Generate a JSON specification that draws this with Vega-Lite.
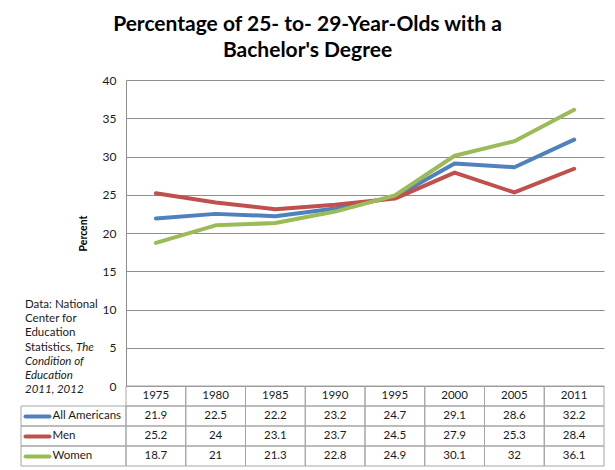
{
  "$schema": "https://vega.github.io/schema/vega-lite/v6.json",
  "padding": {"left": 20, "top": 14, "right": 12, "bottom": 4},
  "title": {
    "text": ["Percentage of 25- to- 29-Year-Olds with a", "Bachelor's Degree"],
    "font": "Lato", "fontSize": 21, "fontWeight": "bold", "lineHeight": 26,
    "color": "#000000", "anchor": "middle", "offset": 13, "dx": -5
  },
  "config": {"view": {"stroke": null}, "font": "Lato"},
  "datasets": {
    "education": [
      {"series": "All Americans", "year": "1975", "value": 21.9},
      {"series": "All Americans", "year": "1980", "value": 22.5},
      {"series": "All Americans", "year": "1985", "value": 22.2},
      {"series": "All Americans", "year": "1990", "value": 23.2},
      {"series": "All Americans", "year": "1995", "value": 24.7},
      {"series": "All Americans", "year": "2000", "value": 29.1},
      {"series": "All Americans", "year": "2005", "value": 28.6},
      {"series": "All Americans", "year": "2011", "value": 32.2},
      {"series": "Men", "year": "1975", "value": 25.2},
      {"series": "Men", "year": "1980", "value": 24},
      {"series": "Men", "year": "1985", "value": 23.1},
      {"series": "Men", "year": "1990", "value": 23.7},
      {"series": "Men", "year": "1995", "value": 24.5},
      {"series": "Men", "year": "2000", "value": 27.9},
      {"series": "Men", "year": "2005", "value": 25.3},
      {"series": "Men", "year": "2011", "value": 28.4},
      {"series": "Women", "year": "1975", "value": 18.7},
      {"series": "Women", "year": "1980", "value": 21},
      {"series": "Women", "year": "1985", "value": 21.3},
      {"series": "Women", "year": "1990", "value": 22.8},
      {"series": "Women", "year": "1995", "value": 24.9},
      {"series": "Women", "year": "2000", "value": 30.1},
      {"series": "Women", "year": "2005", "value": 32},
      {"series": "Women", "year": "2011", "value": 36.1}
    ],
    "note": [
      {"line": 1, "text": "Data: National", "part": "source"},
      {"line": 2, "text": "Center for", "part": "source"},
      {"line": 3, "text": "Education", "part": "source"},
      {"line": 4, "text": "Statistics,", "part": "source"},
      {"line": 4, "text": "The", "part": "titlestart"},
      {"line": 5, "text": "Condition of", "part": "title"},
      {"line": 6, "text": "Education", "part": "title"},
      {"line": 7, "text": "2011, 2012", "part": "title"}
    ]
  },
  "columns": 2,
  "spacing": 0,
  "bounds": "flush",
  "concat": [
    {
      "width": 105, "height": 306,
      "data": {"name": "note"},
      "encoding": {
        "x": {"datum": 0, "type": "quantitative", "scale": {"domain": [0, 1]}, "axis": null},
        "y": {"field": "line", "type": "ordinal", "scale": {"type": "point", "domain": [1, 2, 3, 4, 5, 6, 7], "range": [225, 310], "padding": 0}, "axis": null},
        "text": {"field": "text"}
      },
      "layer": [
        {"transform": [{"filter": "datum.part === 'source'"}],
         "mark": {"type": "text", "align": "left", "baseline": "middle", "fontSize": 11.5, "color": "#1a1a1a", "dx": 4}},
        {"transform": [{"filter": "datum.part === 'title'"}],
         "mark": {"type": "text", "align": "left", "baseline": "middle", "fontSize": 11.5, "fontStyle": "italic", "color": "#1a1a1a", "dx": 4}},
        {"transform": [{"filter": "datum.part === 'titlestart'"}],
         "mark": {"type": "text", "align": "left", "baseline": "middle", "fontSize": 11.5, "fontStyle": "italic", "color": "#1a1a1a", "dx": 55}}
      ]
    },
    {
      "width": 478, "height": 306,
      "data": {"name": "education"},
      "mark": {"type": "line", "strokeWidth": 4, "strokeCap": "round", "strokeJoin": "round"},
      "encoding": {
        "x": {"field": "year", "type": "ordinal", "scale": {"type": "point", "padding": 0.5}, "axis": null},
        "y": {"field": "value", "type": "quantitative", "scale": {"domain": [0, 40]},
          "axis": {"values": [0, 5, 10, 15, 20, 25, 30, 35, 40], "title": "Percent", "titleFont": "Lato",
            "titleFontWeight": "bold", "titleFontSize": 10.5, "titleColor": "#000000", "titlePadding": 14,
            "labelFont": "Lato", "labelFontSize": 12, "labelColor": "#1a1a1a", "labelPadding": 10,
            "ticks": false, "domainColor": "#8e8e8e", "gridColor": "#8e8e8e", "gridOpacity": 1}},
        "color": {"field": "series", "type": "nominal",
          "scale": {"domain": ["All Americans", "Men", "Women"], "range": ["#4F81BD", "#C0504D", "#9BBB59"]},
          "legend": null}
      }
    },
    {
      "width": 105, "height": 80,
      "data": {"name": "education"},
      "transform": [{"filter": "datum.year === '1975'"}],
      "mark": {"type": "rect", "filled": false, "stroke": "#a5a5a5", "strokeWidth": 1},
      "encoding": {
        "y": {"field": "series", "type": "nominal",
          "scale": {"domain": ["Year", "All Americans", "Men", "Women"], "paddingInner": 0, "paddingOuter": 0},
          "axis": {"title": null, "orient": "left", "offset": -28, "domain": false, "grid": false,
            "ticks": true, "tickSize": 24, "tickWidth": 4, "tickCap": "round",
            "tickColor": {"condition": [
              {"test": "datum.value === 'All Americans'", "value": "#4F81BD"},
              {"test": "datum.value === 'Men'", "value": "#C0504D"},
              {"test": "datum.value === 'Women'", "value": "#9BBB59"}], "value": "transparent"},
            "labelAlign": "left", "labelPadding": -27,
            "labelExpr": "datum.value === 'Year' ? '' : datum.value",
            "labelFont": "Lato", "labelFontSize": 11.5, "labelColor": "#1a1a1a", "zindex": 1}}
      }
    },
    {
      "width": 478, "height": 80,
      "data": {"name": "education"},
      "encoding": {
        "x": {"field": "year", "type": "ordinal", "scale": {"type": "band", "paddingInner": 0, "paddingOuter": 0}, "axis": null}
      },
      "layer": [
        {"mark": {"type": "rect", "filled": false, "stroke": "#a5a5a5", "strokeWidth": 1},
         "encoding": {"y": {"field": "series", "type": "nominal",
           "scale": {"domain": ["Year", "All Americans", "Men", "Women"], "paddingInner": 0, "paddingOuter": 0}, "axis": null}}},
        {"mark": {"type": "text", "fontSize": 11.5, "color": "#1a1a1a", "baseline": "middle"},
         "encoding": {"y": {"field": "series", "type": "nominal"}, "text": {"field": "value", "type": "quantitative", "format": ".1~f"}}},
        {"transform": [{"filter": "datum.series === 'All Americans'"}],
         "mark": {"type": "rect", "filled": false, "stroke": "#a5a5a5", "strokeWidth": 1},
         "encoding": {"y": {"datum": "Year", "type": "nominal"}}},
        {"transform": [{"filter": "datum.series === 'All Americans'"}],
         "mark": {"type": "text", "fontSize": 11.5, "color": "#1a1a1a", "baseline": "middle"},
         "encoding": {"y": {"datum": "Year", "type": "nominal"}, "text": {"field": "year"}}}
      ]
    }
  ]
}
